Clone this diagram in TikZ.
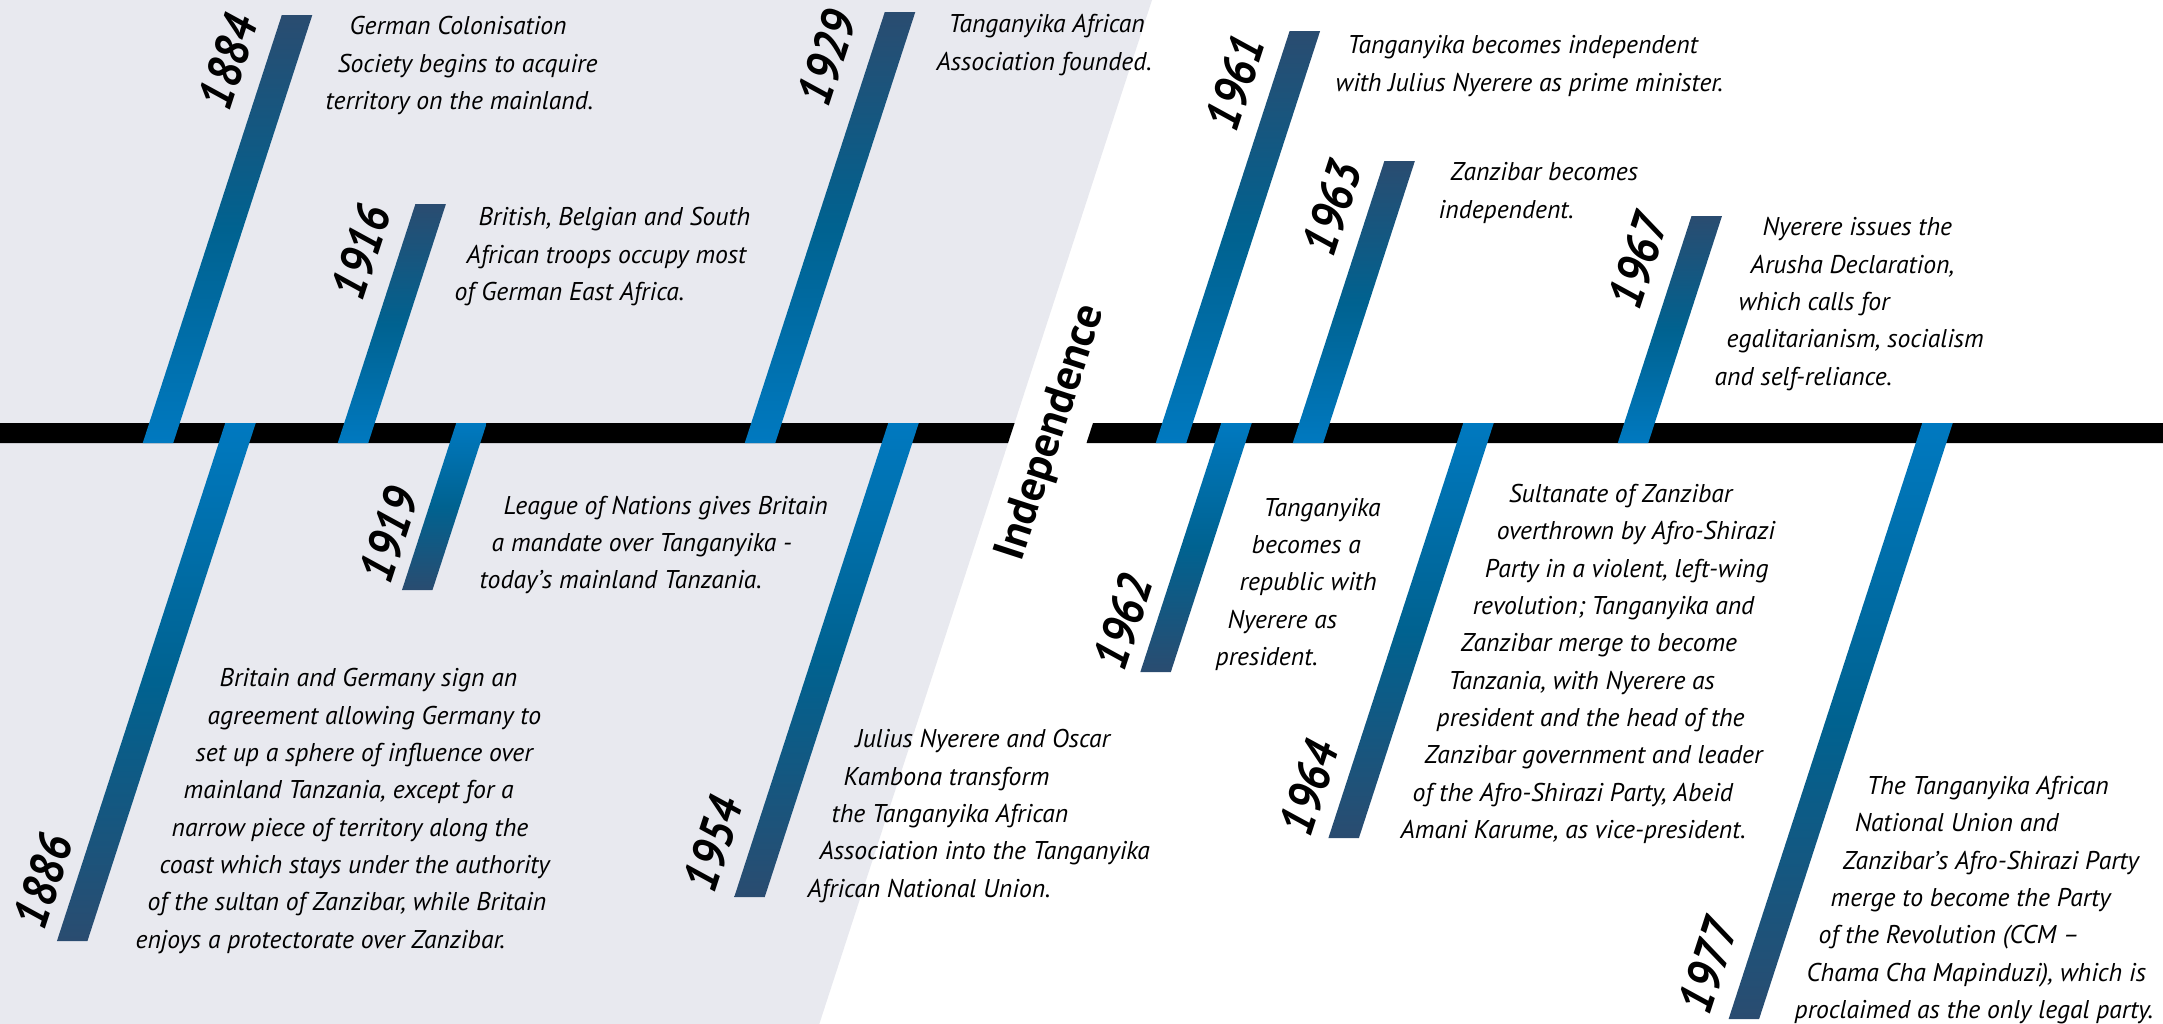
\documentclass[tikz,border=0pt]{standalone}
\usepackage{fontspec}
\setmainfont{PT Sans}
\newfontfamily\yearfamily{PT Sans}[FakeStretch=0.88]
\definecolor{bggray}{RGB}{232,233,239}
\definecolor{barlight}{RGB}{0,121,192}
\definecolor{barmid}{RGB}{0,98,144}
\definecolor{bardark}{RGB}{42,76,112}
\newlength\slantstep
\setlength\slantstep{0.12cm}
\newcommand\ind[1]{\hspace*{#1\slantstep}}
\newcommand\firstl{\rule{0pt}{0.25cm}}
\tikzset{
  upbarstyle/.style={top color=bardark, bottom color=barlight, middle color=barmid},
  lowbarstyle/.style={top color=barlight, bottom color=bardark, middle color=barmid},
  desc/.style={anchor=north west, inner sep=0pt, align=left, text=black,
    font=\fontsize{7.3pt}{10.62pt}\selectfont\itshape},
  yearlabel/.style={rotate=72, inner sep=0pt,
    font=\yearfamily\fontsize{14pt}{14pt}\selectfont\bfseries\itshape},
  indeplabel/.style={rotate=72, inner sep=0pt,
    font=\fontsize{12.6pt}{12.6pt}\selectfont\bfseries}
}
\newcommand\upbar[2]{\shade[upbarstyle] ({#1-3.249},443) -- ({#1+27.251},443) -- ({#1+0.3249*(433-#2)+30.5},#2) -- ({#1+0.3249*(433-#2)},#2) -- cycle;}
\newcommand\lowbar[2]{\shade[lowbarstyle] ({#1+3.249},423) -- ({#1+33.749},423) -- ({#1-0.3249*(#2-433)+30.5},#2) -- ({#1-0.3249*(#2-433)},#2) -- cycle;}
\begin{document}
\begin{tikzpicture}[x=0.01cm,y=-0.01cm]
\useasboundingbox (0,0) rectangle (2163,1024);
\fill[white] (0,0) rectangle (2163,1024);
% grey era
\fill[bggray] (0,0) -- (1152,0) -- (819.3,1024) -- (0,1024) -- cycle;
% timeline
\fill[black] (0,423) -- (1014.6,423) -- (1008,443) -- (0,443) -- cycle;
\fill[black] (1093,423) -- (2163,423) -- (2163,443) -- (1086.5,443) -- cycle;
% bars above
\upbar{146}{15}
\upbar{341}{204}
\upbar{748}{12}
\upbar{1159}{31}
\upbar{1296}{161}
\upbar{1621}{216}
% bars below
\lowbar{222}{941}
\lowbar{453}{590}
\lowbar{885}{897}
\lowbar{1218}{672}
\lowbar{1460}{838}
\lowbar{1919}{1019}
% years
\node[yearlabel] (y1884) at (228,62) {1884};
\node[yearlabel] (y1916) at (361,252) {1916};
\node[yearlabel] (y1929) at (827,58) {1929};
\node[yearlabel] (y1961) at (1235,83) {1961};
\node[yearlabel] (y1963) at (1332,208) {1963};
\node[yearlabel] (y1967) at (1638,261) {1967};
\node[yearlabel] (y1886) at (43,881) {1886};
\node[yearlabel] (y1919) at (389,535) {1919};
\node[yearlabel] (y1954) at (713,844) {1954};
\node[yearlabel] (y1962) at (1123,622) {1962};
\node[yearlabel] (y1964) at (1309,788) {1964};
\node[yearlabel] (y1977) at (1708,966) {1977};
\node[indeplabel] (indep) at (1052,433) {Independence};
% descriptions
\node[desc] (t1884) at (325,9) {\firstl\ind{2}German Colonisation\\ \ind{1}Society begins to acquire\\ territory on the mainland.};
\node[desc] (t1916) at (454,200) {\firstl\ind{2}British, Belgian and South\\ \ind{1}African troops occupy most\\ of German East Africa.};
\node[desc] (t1929) at (936,7) {\firstl\ind{1}Tanganyika African\\ Association founded.};
\node[desc] (t1961) at (1335,28) {\firstl\ind{1}Tanganyika becomes independent\\ with Julius Nyerere as prime minister.};
\node[desc] (t1963) at (1438,155) {\firstl\ind{1}Zanzibar becomes\\ independent.};
\node[desc] (t1967) at (1714,210) {\firstl\ind{4}Nyerere issues the\\ \ind{3}Arusha Declaration,\\ \ind{2}which calls for\\ \ind{1}egalitarianism, socialism\\ and self-reliance.};
\node[desc] (t1886) at (135,661) {\firstl\ind{7}Britain and Germany sign an\\ \ind{6}agreement allowing Germany to\\ \ind{5}set up a sphere of influence over\\ \ind{4}mainland Tanzania, except for a\\ \ind{3}narrow piece of territory along the\\ \ind{2}coast which stays under the authority\\ \ind{1}of the sultan of Zanzibar, while Britain\\ enjoys a protectorate over Zanzibar.};
\node[desc] (t1919) at (479,488.5) {\firstl\ind{2}League of Nations gives Britain\\ \ind{1}a mandate over Tanganyika -\\ today’s mainland Tanzania.};
\node[desc] (t1954) at (807,722) {\firstl\ind{4}Julius Nyerere and Oscar\\ \ind{3}Kambona transform\\ \ind{2}the Tanganyika African\\ \ind{1}Association into the Tanganyika\\ African National Union.};
\node[desc] (t1962) at (1215,490.5) {\firstl\ind{4}Tanganyika\\ \ind{3}becomes a\\ \ind{2}republic with\\ \ind{1}Nyerere as\\ president.};
\node[desc] (t1964) at (1400,476.6) {\firstl\ind{9}Sultanate of Zanzibar\\ \ind{8}overthrown by Afro-Shirazi\\ \ind{7}Party in a violent, left-wing\\ \ind{6}revolution; Tanganyika and\\ \ind{5}Zanzibar merge to become\\ \ind{4}Tanzania, with Nyerere as\\ \ind{3}president and the head of the\\ \ind{2}Zanzibar government and leader\\ \ind{1}of the Afro-Shirazi Party, Abeid\\ Amani Karume, as vice-president.};
\node[desc] (t1977) at (1794,768.6) {\firstl\ind{6}The Tanganyika African\\ \ind{5}National Union and\\ \ind{4}Zanzibar’s Afro-Shirazi Party\\ \ind{3}merge to become the Party\\ \ind{2}of the Revolution (CCM –\\ \ind{1}Chama Cha Mapinduzi), which is\\ proclaimed as the only legal party.};
\end{tikzpicture}
\end{document}
